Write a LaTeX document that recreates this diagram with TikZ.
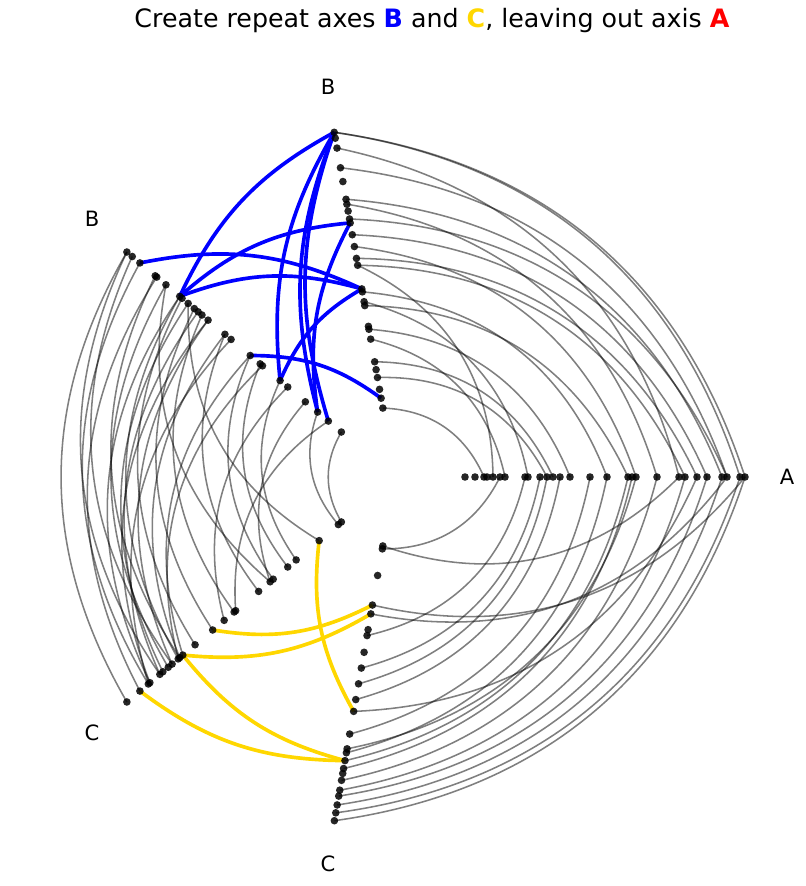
\documentclass[tikz,border=0pt]{standalone}
\usepackage{fontspec}
\setmainfont{DejaVu Sans}
\usetikzlibrary{positioning}
\definecolor{hiblue}{RGB}{0,0,255}
\definecolor{higold}{RGB}{255,215,0}
\definecolor{hired}{RGB}{255,0,0}
\tikzset{
  dot/.style={circle, fill=black, fill opacity=0.85, inner sep=0pt, minimum size=0.19cm},
  plain edge/.style={black, opacity=0.5, line width=1.1pt},
  blue edge/.style={hiblue, line width=2.6pt},
  gold edge/.style={higold, line width=2.6pt},
  axis label/.style={font=\fontsize{15}{18}\selectfont},
  % arcs between neighbouring axes
  ab/.style={bend right=32},
  bc/.style={bend right=30},
  ca/.style={bend right=32},
  bb/.style={bend left=18},
  cc/.style={bend right=18}
}
\begin{document}
\begin{tikzpicture}[x=0.025cm, y=0.025cm]
    \useasboundingbox (-395,-409) rectangle (410,477);
    % axis points
    \foreach \r [count=\i] in {70,80,89,92,98,105,110,130,133,145,152,158,165,175,195,212,233,237,241,262,284,290,302,312,327,332,345,350}
      \coordinate (a\i) at (0:\r);
    \foreach \r [count=\i] in {350,344,334,314,300,282,277,270,262,258,246,234,222,215,191,188,178,174,153,150,140,117,109,101,89,80,70}
      \coordinate (bu\i) at (100:\r);
    \foreach \r [count=\i] in {350,343,333,313,311,299,281,278,270,262,257,252,244,222,214,189,176,173,150,140,117,101,87,70}
      \coordinate (bl\i) at (140:\r);
    \foreach \r [count=\i] in {350,333,322,320,307,303,296,291,283,281,277,261,238,223,210,208,178,163,159,140,129,99,74,70}
      \coordinate (cl\i) at (220:\r);
    \foreach \r [count=\i] in {349,341,333,324,318,308,301,296,288,280,276,261,238,226,210,194,178,161,155,139,130,100,73,70}
      \coordinate (cu\i) at (260:\r);
    % grey edges
    \foreach \s/\t in {28/1,27/1,26/4,25/6,24/11,23/13,22/14,20/7,19/12,17/18,16/16,14/20,12/22,11/24,9/17,5/14,3/27,7/21,26/9,21/3}
      \draw[plain edge] (a\s) to[ab] (bu\t);
    \foreach \s/\t in {1/28,2/27,3/25,4/24,5/22,6/20,8/18,9/17,10/16,11/19,12/15,13/23,14/13,15/11,16/10,18/8,20/26,21/28,23/6,24/21}
      \draw[plain edge] (cu\s) to[ca] (a\t);
    \foreach \s/\t in {1/1,1/5,2/8,3/3,4/10,5/2,6/7,7/4,7/9,8/12,9/6,10/13,11/5,12/15,13/8,14/17,15/3,16/11,16/19,17/20,18/9,19/21,20/14,21/18,22/23,23/16,24/24,13/4,6/18,9/22,14/10}
      \draw[plain edge] (bl\s) to[bc] (cl\t);
    % repeat axes
    \foreach \s/\t in {7/1,19/1,22/1,23/1,7/10,3/15,7/15,19/15,16/26,22/10}
      \draw[blue edge] (bl\s) to[bb] (bu\t);
    \foreach \s/\t in {13/21,11/20,22/13,2/9,11/9}
      \draw[gold edge] (cl\s) to[cc] (cu\t);
    % dots
    \foreach \i in {1,...,28} \node[dot] at (a\i) {};
    \foreach \i in {1,...,27} \node[dot] at (bu\i) {};
    \foreach \i in {1,...,24} {
      \node[dot] at (bl\i) {};
      \node[dot] at (cl\i) {};
      \node[dot] at (cu\i) {};
    }
    % labels
    \node[axis label] (labA) at (392,0) {A};
    \node[axis label] (labBu) at (-67,390) {B};
    \node[axis label] (labBl) at (-303,258) {B};
    \node[axis label] (labCl) at (-303,-256) {C};
    \node[axis label] (labCu) at (-67,-387) {C};
    \node[font=\fontsize{18}{21}\selectfont] (title) at (37,456)
      {Create repeat axes \textcolor{hiblue}{\textbf{B}} and \textcolor{higold}{\textbf{C}}, leaving out axis \textcolor{hired}{\textbf{A}}};
\end{tikzpicture}
\end{document}
